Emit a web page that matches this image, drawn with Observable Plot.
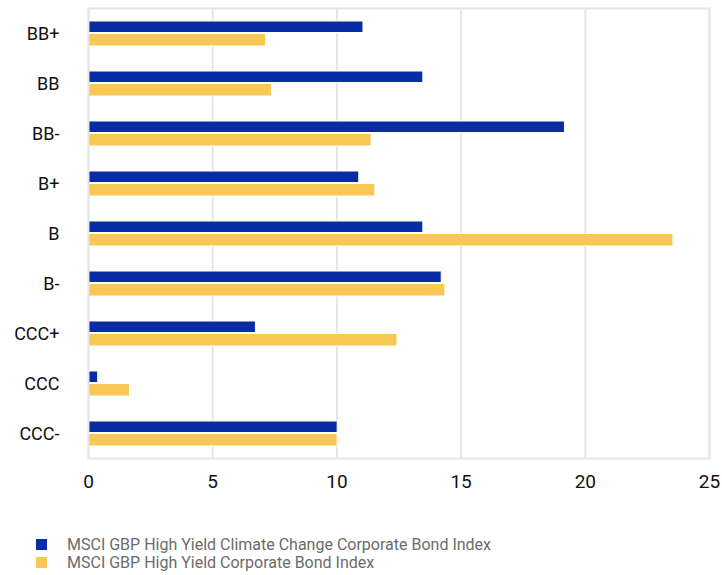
<!DOCTYPE html>
<html>
<head>
<meta charset="utf-8">
<script src="https://cdn.jsdelivr.net/npm/d3@7"></script>
<script src="https://cdn.jsdelivr.net/npm/@observablehq/plot@0.6"></script>
<style>
  body { margin: 0; background: #fff; font-family: Roboto, "Noto Sans", sans-serif; }
  #chart svg { display: block; }
  .legend { padding: 35px 0 0 36px; }
  .legend .item { display: flex; align-items: center; height: 18px; font-size: 16px; color: #6b6b6b; }
  .legend .sw { width: 11px; height: 11px; margin-right: 20px; }
</style>
</head>
<body>
<div id="chart"></div>
<script>
const categories = ["BB+", "BB", "BB-", "B+", "B", "B-", "CCC+", "CCC", "CCC-"];
const climateValues = [11.07, 13.48, 19.18, 10.90, 13.48, 14.22, 6.74, 0.39, 10.03];
const parentValues = [7.15, 7.39, 11.40, 11.55, 23.55, 14.37, 12.44, 1.67, 10.03];
const seriesNames = [
  "MSCI GBP High Yield Climate Change Corporate Bond Index",
  "MSCI GBP High Yield Corporate Bond Index"
];
const seriesColors = ["#082CA4", "#F8C754"];
const xTicks = [0, 5, 10, 15, 20, 25];

const climate = categories.map((c, i) => ({category: c, value: climateValues[i]}));
const parent = categories.map((c, i) => ({category: c, value: parentValues[i]}));

const plot = Plot.plot({
  width: 722,
  height: 500,
  marginTop: 8,
  marginBottom: 42,
  marginLeft: 88,
  marginRight: 13,
  style: {fontFamily: "Roboto, sans-serif", fontSize: "16px", color: "#111"},
  x: {domain: [0, 25], ticks: xTicks, tickSize: 0, tickPadding: 16, label: null},
  y: {domain: categories, padding: 0.5, paddingOuter: 0.25, tickSize: 0, tickPadding: 29, label: null},
  marks: [
    Plot.ruleX(xTicks, {stroke: "#e6e6e6", strokeWidth: 2}),
    Plot.barX(climate, {y: "category", x: "value", fill: seriesColors[0], insetBottom: 13.5, stroke: "#fff", strokeWidth: 1}),
    Plot.barX(parent, {y: "category", x: "value", fill: seriesColors[1], insetTop: 12.5, stroke: "#fff", strokeWidth: 1}),
    Plot.frame({stroke: "#e6e6e6", strokeWidth: 2})
  ]
});
document.getElementById("chart").appendChild(plot);
plot.querySelectorAll('[aria-label="x-axis tick label"] text').forEach(t => t.style.fontSize = "19px");
plot.querySelectorAll('[aria-label="y-axis tick label"] text').forEach(t => t.style.fontSize = "18px");

const legend = document.createElement("div");
legend.className = "legend";
seriesNames.forEach((name, i) => {
  const item = document.createElement("div");
  item.className = "item";
  const sw = document.createElement("span");
  sw.className = "sw";
  sw.style.background = seriesColors[i];
  const label = document.createElement("span");
  label.textContent = name;
  item.appendChild(sw);
  item.appendChild(label);
  legend.appendChild(item);
});
document.body.appendChild(legend);
</script>
</body>
</html>
